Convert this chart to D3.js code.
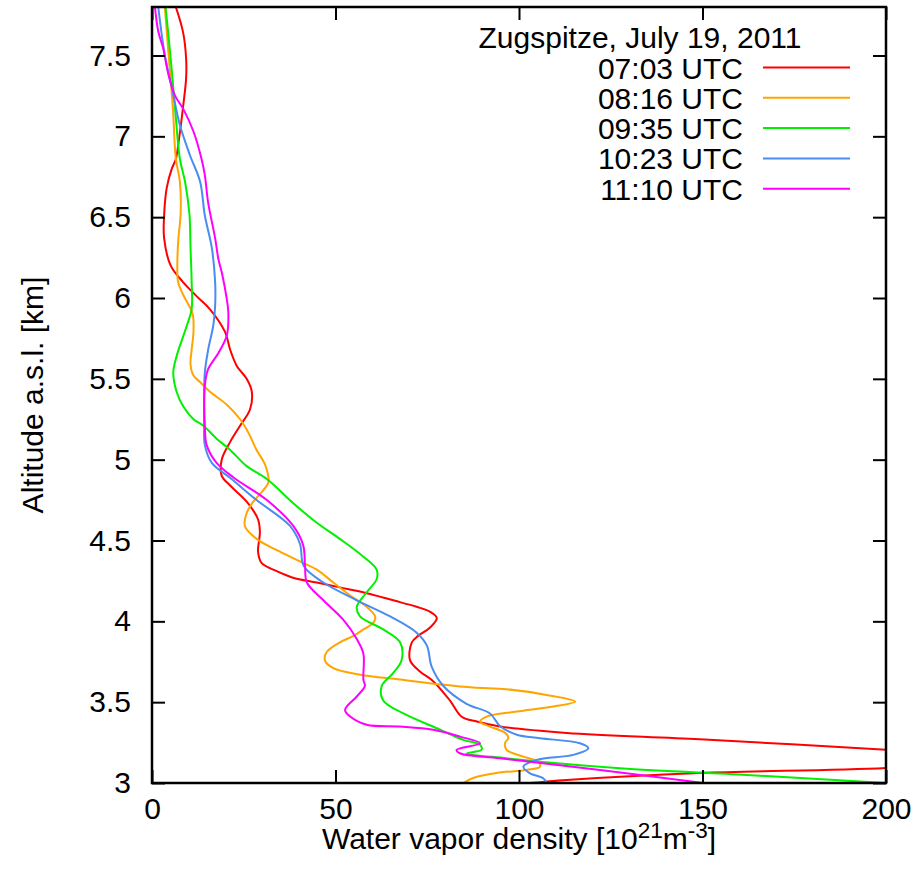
<!DOCTYPE html>
<html>
<head>
<meta charset="utf-8">
<script src="https://cdn.jsdelivr.net/npm/d3@7"></script>
<style>
  body { margin: 0; background: #fff; }
  svg { display: block; font-family: "Liberation Sans", Arial, sans-serif; }
</style>
</head>
<body>
<svg id="chart" width="919" height="880"></svg>
<script>
// each profile: [density (1e21 m^-3), altitude (km)] along the trace
const p0703 = [
  [6.5, 7.80], [8.5, 7.64], [9.3, 7.48], [9.3, 7.36], [8.4, 7.17], [7.4, 6.99], [6.5, 6.86],
  [5.4, 6.80], [4.0, 6.68], [3.3, 6.51], [3.3, 6.37], [5.1, 6.20], [8.4, 6.10], [12.2, 6.01],
  [15.8, 5.93], [19.9, 5.79], [21.3, 5.68], [23.1, 5.58], [25.8, 5.50], [27.2, 5.42], [26.7, 5.31],
  [24.0, 5.21], [21.3, 5.11], [19.0, 5.00], [19.0, 4.90], [21.3, 4.84], [25.8, 4.74], [28.9, 4.63],
  [29.4, 4.55], [28.9, 4.43], [29.9, 4.36], [34.0, 4.31], [38.4, 4.27], [44.9, 4.24], [51.2, 4.21],
  [57.5, 4.18], [65.7, 4.13], [72.1, 4.09], [75.7, 4.06], [77.6, 4.02], [75.7, 3.96], [72.5, 3.91],
  [70.8, 3.87], [70.3, 3.76], [73.0, 3.69], [76.6, 3.63], [81.2, 3.51], [84.4, 3.41], [88.5, 3.38],
  [94.8, 3.35], [113, 3.31], [149.3, 3.27], [200.2, 3.205], [235, 3.15], [200, 3.093],
  [149.3, 3.062], [113, 3.019], [103, 3.0]
]
const p0816 = [
  [3.5, 7.80], [4.4, 7.54], [5.7, 7.17], [6.5, 6.86], [7.6, 6.72], [7.8, 6.52], [7.2, 6.37],
  [6.9, 6.21], [7.1, 6.10], [8.5, 6.02], [9.9, 5.96], [11.1, 5.90], [11.3, 5.79], [10.8, 5.68],
  [10.5, 5.59], [11.3, 5.52], [13.1, 5.48], [15.8, 5.42], [20.4, 5.34], [24.0, 5.25], [26.2, 5.17],
  [28.5, 5.06], [30.8, 4.97], [31.7, 4.86], [29.9, 4.80], [27.6, 4.74], [25.8, 4.67], [25.3, 4.59],
  [28.5, 4.51], [34.0, 4.44], [39.4, 4.38], [44.9, 4.32], [49.4, 4.24], [54.0, 4.16], [58.5, 4.09],
  [60.8, 4.03], [60.3, 3.99], [57.6, 3.95], [54.9, 3.91], [51.2, 3.87], [47.6, 3.81], [47.1, 3.76],
  [49.4, 3.71], [56.7, 3.67], [67.6, 3.64], [78.5, 3.61], [87.5, 3.59], [96.6, 3.58], [107.5, 3.545],
  [115.3, 3.504], [109.4, 3.473], [99.4, 3.442], [91.2, 3.411], [89.4, 3.38], [92.1, 3.349],
  [96.2, 3.31], [97.1, 3.279], [96.2, 3.248], [96.6, 3.205], [101.2, 3.163], [105.3, 3.132],
  [105.7, 3.101], [102.1, 3.081], [93.9, 3.062], [87.5, 3.031], [84.8, 3.0]
]
const p0935 = [
  [3.7, 7.80], [5.1, 7.48], [6.3, 7.17], [7.6, 6.86], [9.0, 6.72], [10.2, 6.52], [10.5, 6.31],
  [10.8, 6.10], [10.8, 5.93], [9.5, 5.83], [6.7, 5.64], [5.8, 5.54], [6.7, 5.42], [8.5, 5.33],
  [11.3, 5.25], [14.0, 5.21], [17.6, 5.13], [21.3, 5.06], [25.8, 4.96], [31.3, 4.88], [38.5, 4.73],
  [44.9, 4.61], [51.2, 4.51], [57.6, 4.40], [61.2, 4.32], [61.2, 4.26], [58.5, 4.18], [55.8, 4.09],
  [56.7, 4.03], [63.0, 3.95], [67.6, 3.87], [68.0, 3.76], [65.7, 3.68], [62.6, 3.60], [63.0, 3.51],
  [68.5, 3.43], [78.5, 3.33], [84.8, 3.267], [89.4, 3.236], [89.8, 3.205], [85.8, 3.184],
  [96.6, 3.153], [127.5, 3.091], [162, 3.05], [200.2, 3.0]
]
const p1023 = [
  [1.7, 7.80], [3.5, 7.50], [5.4, 7.30], [7.6, 7.07], [10.4, 6.88], [13.1, 6.72], [14.4, 6.51],
  [16.3, 6.31], [17.2, 6.10], [17.2, 5.95], [16.7, 5.83], [15.3, 5.68], [14.4, 5.54], [14.2, 5.37],
  [14.2, 5.21], [14.4, 5.09], [16.3, 4.98], [21.7, 4.88], [28.5, 4.75], [37.6, 4.59], [40.3, 4.48],
  [41.4, 4.34], [46.7, 4.24], [55.8, 4.13], [64.9, 4.03], [72.1, 3.93], [74.9, 3.85], [76.2, 3.72],
  [79.4, 3.60], [85.7, 3.49], [92.1, 3.43], [94.8, 3.353], [99.4, 3.298], [105.7, 3.277],
  [116.6, 3.246], [118.9, 3.215], [114.8, 3.174], [104.8, 3.143], [101.2, 3.101], [103, 3.06],
  [106.6, 3.029], [107.5, 3.0]
]
const p1110 = [
  [0.8, 7.80], [1.7, 7.65], [3.1, 7.54], [4.4, 7.39], [6.3, 7.25], [8.5, 7.17], [11.3, 7.03],
  [13.5, 6.86], [14.4, 6.76], [15.3, 6.59], [17.2, 6.37], [18.1, 6.24], [19.1, 6.15], [20.4, 5.99],
  [20.8, 5.91], [20.4, 5.77], [18.1, 5.66], [15.3, 5.56], [14.4, 5.46], [14.4, 5.21], [14.9, 5.09],
  [17.6, 4.98], [22.2, 4.89], [31.3, 4.75], [38.5, 4.59], [41.2, 4.47], [41.7, 4.34], [42.2, 4.24],
  [46.7, 4.13], [52.1, 4.01], [55.8, 3.89], [57.6, 3.80], [57.6, 3.64], [58.0, 3.60], [55.8, 3.535],
  [52.6, 3.452], [54.0, 3.411], [58.5, 3.36], [67.6, 3.349], [76.6, 3.329], [83.9, 3.287],
  [89.4, 3.246], [83.0, 3.205], [83.9, 3.184], [94.8, 3.153], [122.1, 3.081], [150.2, 3.0]
]

const labels = ['07:03 UTC', '08:16 UTC', '09:35 UTC', '10:23 UTC', '11:10 UTC']
const colors = ['#ff0000', '#ffa500', '#00f000', '#4a8cf0', '#ff00ff']
const profiles = [p0703, p0816, p0935, p1023, p1110]
const xTicks = [0, 50, 100, 150, 200]
const yTicks = [3, 3.5, 4, 4.5, 5, 5.5, 6, 6.5, 7, 7.5]

const m = { left: 152, right: 886, top: 7, bottom: 783 }
const fs = 30

const svg = d3.select('#chart')

const x = d3.scaleLinear().domain([0, 200]).range([m.left, m.right])
const y = d3.scaleLinear().domain([3, 7.8]).range([m.bottom, m.top])

svg.append('clipPath').attr('id', 'clip')
  .append('rect')
  .attr('x', m.left).attr('y', m.top)
  .attr('width', m.right - m.left).attr('height', m.bottom - m.top)

const line = d3.line()
  .x(d => x(d[0]))
  .y(d => y(d[1]))
  .curve(d3.curveCatmullRom.alpha(0.5))

const g = svg.append('g').attr('clip-path', 'url(#clip)')
profiles.forEach((p, i) => {
  g.append('path')
    .attr('d', line(p))
    .attr('fill', 'none')
    .attr('stroke', colors[i])
    .attr('stroke-width', 2)
})

// axes with inward ticks on every side
const tl = 13
const axisStyle = (sel) => {
  sel.select('.domain').remove()
  sel.selectAll('.tick line').attr('stroke', '#000').attr('stroke-width', 2)
  sel.selectAll('.tick text').attr('fill', '#000').style('font-size', fs + 'px')
    .style('font-family', '"Liberation Sans", Arial, sans-serif')
}

svg.append('g')
  .attr('transform', `translate(0,${m.bottom})`)
  .call(d3.axisBottom(x).tickValues(xTicks).tickFormat(d3.format('d')).tickSizeInner(-tl).tickSizeOuter(0).tickPadding(15))
  .call(axisStyle)

svg.append('g')
  .attr('transform', `translate(0,${m.top})`)
  .call(d3.axisTop(x).tickValues(xTicks).tickFormat('').tickSizeInner(-tl).tickSizeOuter(0))
  .call(axisStyle)

svg.append('g')
  .attr('transform', `translate(${m.left},0)`)
  .call(d3.axisLeft(y).tickValues(yTicks).tickFormat(d3.format('')).tickSizeInner(-tl).tickSizeOuter(0).tickPadding(21))
  .call(axisStyle)

svg.append('g')
  .attr('transform', `translate(${m.right},0)`)
  .call(d3.axisRight(y).tickValues(yTicks).tickFormat('').tickSizeInner(-tl).tickSizeOuter(0))
  .call(axisStyle)

svg.append('rect')
  .attr('x', m.left).attr('y', m.top)
  .attr('width', m.right - m.left).attr('height', m.bottom - m.top)
  .attr('fill', 'none').attr('stroke', '#000').attr('stroke-width', 2.5)

// axis titles
const xt = svg.append('text')
  .attr('x', (m.left + m.right) / 2).attr('y', 849)
  .attr('text-anchor', 'middle')
  .style('font-size', fs + 'px')
xt.append('tspan').text('Water vapor density [10')
xt.append('tspan').attr('dy', -11).style('font-size', (fs * 0.75) + 'px').text('21')
xt.append('tspan').attr('dy', 11).text('m')
xt.append('tspan').attr('dy', -11).style('font-size', (fs * 0.75) + 'px').text('-3')
xt.append('tspan').attr('dy', 11).text(']')

svg.append('text')
  .attr('transform', `translate(43,${(m.top + m.bottom) / 2}) rotate(-90)`)
  .attr('text-anchor', 'middle')
  .style('font-size', fs + 'px')
  .text('Altitude a.s.l. [km]')

// legend
const leg = svg.append('g')
leg.append('text')
  .attr('x', 640).attr('y', 48)
  .attr('text-anchor', 'middle')
  .style('font-size', fs + 'px')
  .text('Zugspitze, July 19, 2011')

labels.forEach((lab, i) => {
  const cy = 67.5 + i * 30.3
  leg.append('text')
    .attr('x', 743).attr('y', cy + 11)
    .attr('text-anchor', 'end')
    .style('font-size', fs + 'px')
    .text(lab)
  leg.append('line')
    .attr('x1', 763).attr('x2', 850)
    .attr('y1', cy).attr('y2', cy)
    .attr('stroke', colors[i]).attr('stroke-width', 2)
})
</script>
</body>
</html>
